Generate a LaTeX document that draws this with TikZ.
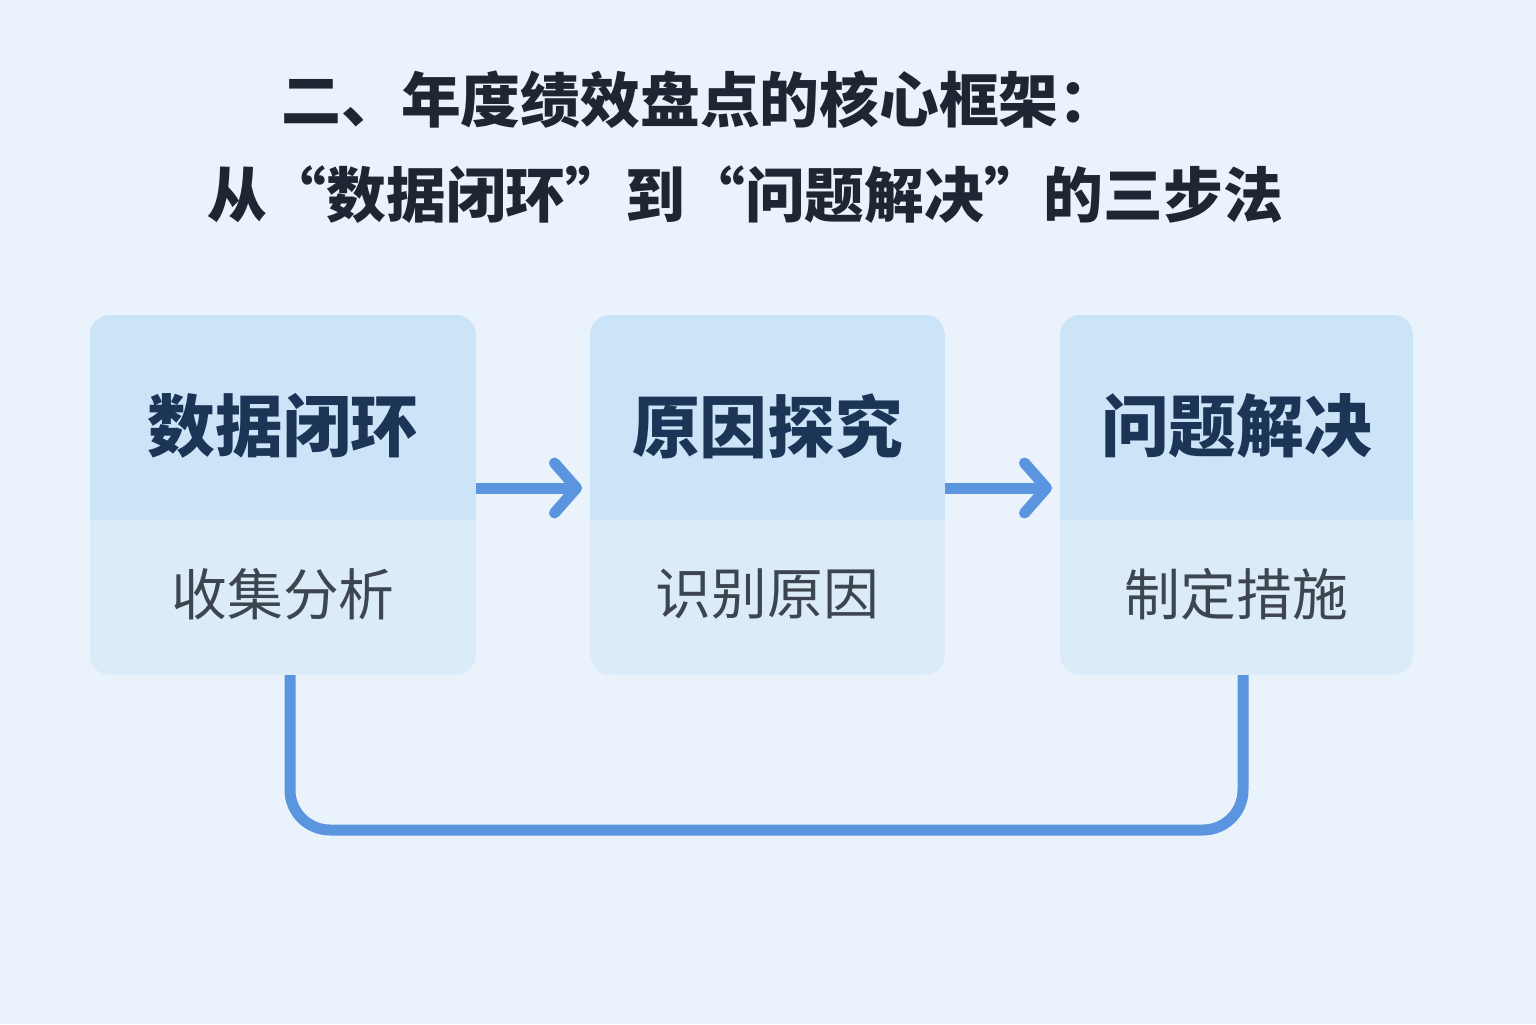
\documentclass[tikz,border=0pt]{standalone}
\usepackage{fontspec}
\newfontfamily\cjk{Noto Sans CJK SC}
\usetikzlibrary{arrows.meta}
\definecolor{bg}{HTML}{EAF3FC}
\definecolor{topc}{HTML}{CCE4F7}
\definecolor{botc}{HTML}{DCEBF8}
\definecolor{blue}{HTML}{5B95E0}
\definecolor{ttl}{HTML}{1F2633}
\definecolor{navy}{HTML}{1C3557}
\definecolor{sub}{HTML}{3D4550}
\begin{document}
\begin{tikzpicture}[x=1bp,y=-1bp,
  ttlstyle/.style={text=ttl,font=\cjk\bfseries\fontsize{60}{70}\selectfont,anchor=center,inner sep=0},
  headstyle/.style={text=navy,font=\cjk\bfseries\fontsize{68}{80}\selectfont,inner sep=0},
  substyle/.style={text=sub,font=\cjk\fontsize{56}{66}\selectfont,inner sep=0},
  conn/.style={draw=blue,line width=11bp},
  arr/.style={conn,-{Straight Barb[length=22bp,width=50bp,line width=11bp,round]}}]
\fill[bg] (0,0) rectangle (1536,1024);
\useasboundingbox (0,0) rectangle (1536,1024);
\node[ttlstyle] (t1) at (700,100) {二、年度绩效盘点的核心框架：};
\node[ttlstyle] (t2) at (745,195) {从“数据闭环”到“问题解决”的三步法};
\foreach \n/\l/\r/\h/\s in {a/90/476/数据闭环/收集分析, b/590/945/原因探究/识别原因, c/1060/1413/问题解决/制定措施}{
  \fill[botc,rounded corners=20bp] (\l,315) rectangle (\r,675);
  \begin{scope}
  \clip[rounded corners=20bp] (\l,315) rectangle (\r,675);
  \fill[topc] (\l,315) rectangle (\r,520);
  \end{scope}
  \coordinate (\n) at ({(\l+\r)/2},495);
  \coordinate (\n L) at (\l,488);
  \coordinate (\n R) at (\r,488);
  \node[headstyle] (\n h) at ({(\l+\r)/2},426) {\h};
  \node[substyle] (\n s) at ({(\l+\r)/2},594) {\s};
}
\coordinate (aB) at (290,675);
\coordinate (cB) at (1243,675);
\draw[arr] (aR) -- ([xshift=-8bp]bL);
\draw[arr] (bR) -- ([xshift=-8bp]cL);
\draw[conn,rounded corners=40bp] (aB) -- (290,830) -- (1243,830) -- (cB);
\end{tikzpicture}
\end{document}
